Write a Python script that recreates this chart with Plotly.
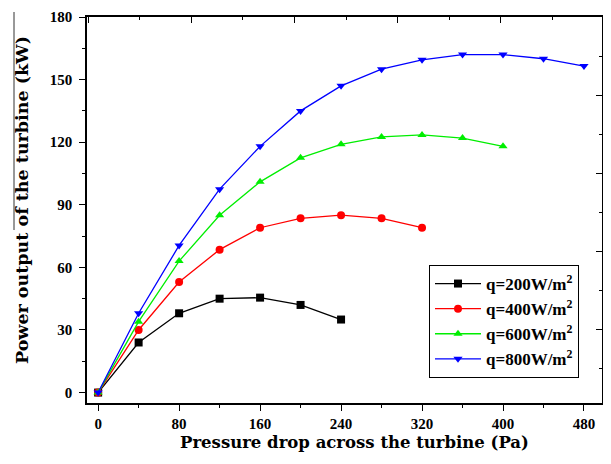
import plotly.graph_objects as go

pressure = [0, 40, 80, 120, 160, 200, 240, 280, 320, 360, 400, 440, 480]
p200 = [0, 24, 38, 45, 45.5, 42, 35]
p400 = [0, 30, 53, 68.5, 79, 83.5, 85, 83.5, 79]
p600 = [0, 34, 63, 85, 101, 112.5, 119, 122.5, 123.5, 122, 118]
p800 = [0, 38, 70.5, 97.5, 118, 135, 147, 155, 159.5, 162, 162, 160, 156.5]
names = ["q=200W/m<sup>2</sup>", "q=400W/m<sup>2</sup>", "q=600W/m<sup>2</sup>", "q=800W/m<sup>2</sup>"]
colors = ["#000000", "#ff0000", "#00ee00", "#0000ff"]
symbols = ["square", "circle", "triangle-up", "triangle-down"]
series = [p200, p400, p600, p800]

FONT = "Liberation Serif"
TFONT = "DejaVu Serif"

W, H = 595, 448
L, R, T, B = 79, 1, 9, 53
PW, PH = W - L - R, H - T - B

fig = go.Figure()
for name, vals, c, s in zip(names, series, colors, symbols):
    fig.add_trace(go.Scatter(
        x=pressure[:len(vals)], y=vals, name=name, mode="lines+markers",
        line=dict(color=c, width=1.3),
        marker=dict(symbol=s, size=8, color=c),
    ))

# dummy trace to register the mirror tick axes
fig.add_trace(go.Scatter(x=[None], y=[None], xaxis="x2", yaxis="y2",
                         showlegend=False, hoverinfo="skip"))

tickfont = dict(family=FONT, size=15, color="black", weight="bold")
fig.update_layout(
    width=W, height=H,
    margin=dict(l=L, r=R, t=T, b=B, autoexpand=False),
    paper_bgcolor="white", plot_bgcolor="white",
    font=dict(family=FONT, color="black"),
    xaxis=dict(
        range=[-11, 497.8], tickvals=[0, 80, 160, 240, 320, 400, 480],
        ticks="outside", ticklen=6, tickwidth=1.3, tickcolor="black",
        minor=dict(dtick=40, tick0=0, ticks="outside", ticklen=3, tickcolor="black"),
        showline=True, linecolor="black", linewidth=1.5, mirror=True,
        showgrid=False, zeroline=False, automargin=False,
        tickfont=tickfont,
    ),
    yaxis=dict(
        range=[-5, 180], tickvals=[0, 30, 60, 90, 120, 150, 180],
        ticks="outside", ticklen=6, tickwidth=1.3, tickcolor="black",
        minor=dict(dtick=15, tick0=0, ticks="outside", ticklen=3, tickcolor="black"),
        showline=True, linecolor="black", linewidth=1.5, mirror=True,
        showgrid=False, zeroline=False, automargin=False,
        tickfont=tickfont, ticklabelstandoff=4,
    ),
    xaxis2=dict(
        overlaying="x", side="top", anchor="y", range=[-0.02, 9.96],
        dtick=2, tick0=0, ticks="inside", ticklen=6, tickcolor="black",
        minor=dict(dtick=1, tick0=0, ticks="inside", ticklen=3, tickcolor="black"),
        showticklabels=False, showline=False,
        showgrid=False, zeroline=False, automargin=False,
    ),
    yaxis2=dict(
        overlaying="y", side="right", anchor="x", range=[0.12, 10.02],
        dtick=2, tick0=0, ticks="inside", ticklen=6, tickcolor="black",
        minor=dict(dtick=1, tick0=0, ticks="inside", ticklen=3, tickcolor="black"),
        showticklabels=False, showline=False,
        showgrid=False, zeroline=False, automargin=False,
    ),
    legend=dict(
        x=(429 - 87) / PW, y=(403 - 265) / PH, xanchor="left", yanchor="top",
        bordercolor="black", borderwidth=1, bgcolor="white",
        font=dict(family=FONT, size=17, color="black", weight="bold"),
        itemwidth=46,
    ),
    annotations=[
        dict(text="<b>Pressure drop across the turbine (Pa)</b>",
             xref="paper", yref="paper", x=(354 - 87) / PW, y=(403 - 443) / PH,
             xanchor="center", yanchor="middle", showarrow=False,
             font=dict(family=TFONT, size=16.5, color="black")),
        dict(text="<b>Power output of the turbine (kW)</b>",
             xref="paper", yref="paper", x=(22 - 87) / PW, y=(403 - 200) / PH,
             xanchor="center", yanchor="middle", showarrow=False, textangle=-90,
             font=dict(family=TFONT, size=17.5, color="black")),
    ],
    shapes=[dict(type="line", xref="paper", yref="paper",
                 x0=(14 - 87) / PW, x1=(14 - 87) / PW, y0=(403 - 12) / PH, y1=(403 - 230) / PH,
                 line=dict(color="#333333", width=1))],
)

fig.write_html("out.html")
